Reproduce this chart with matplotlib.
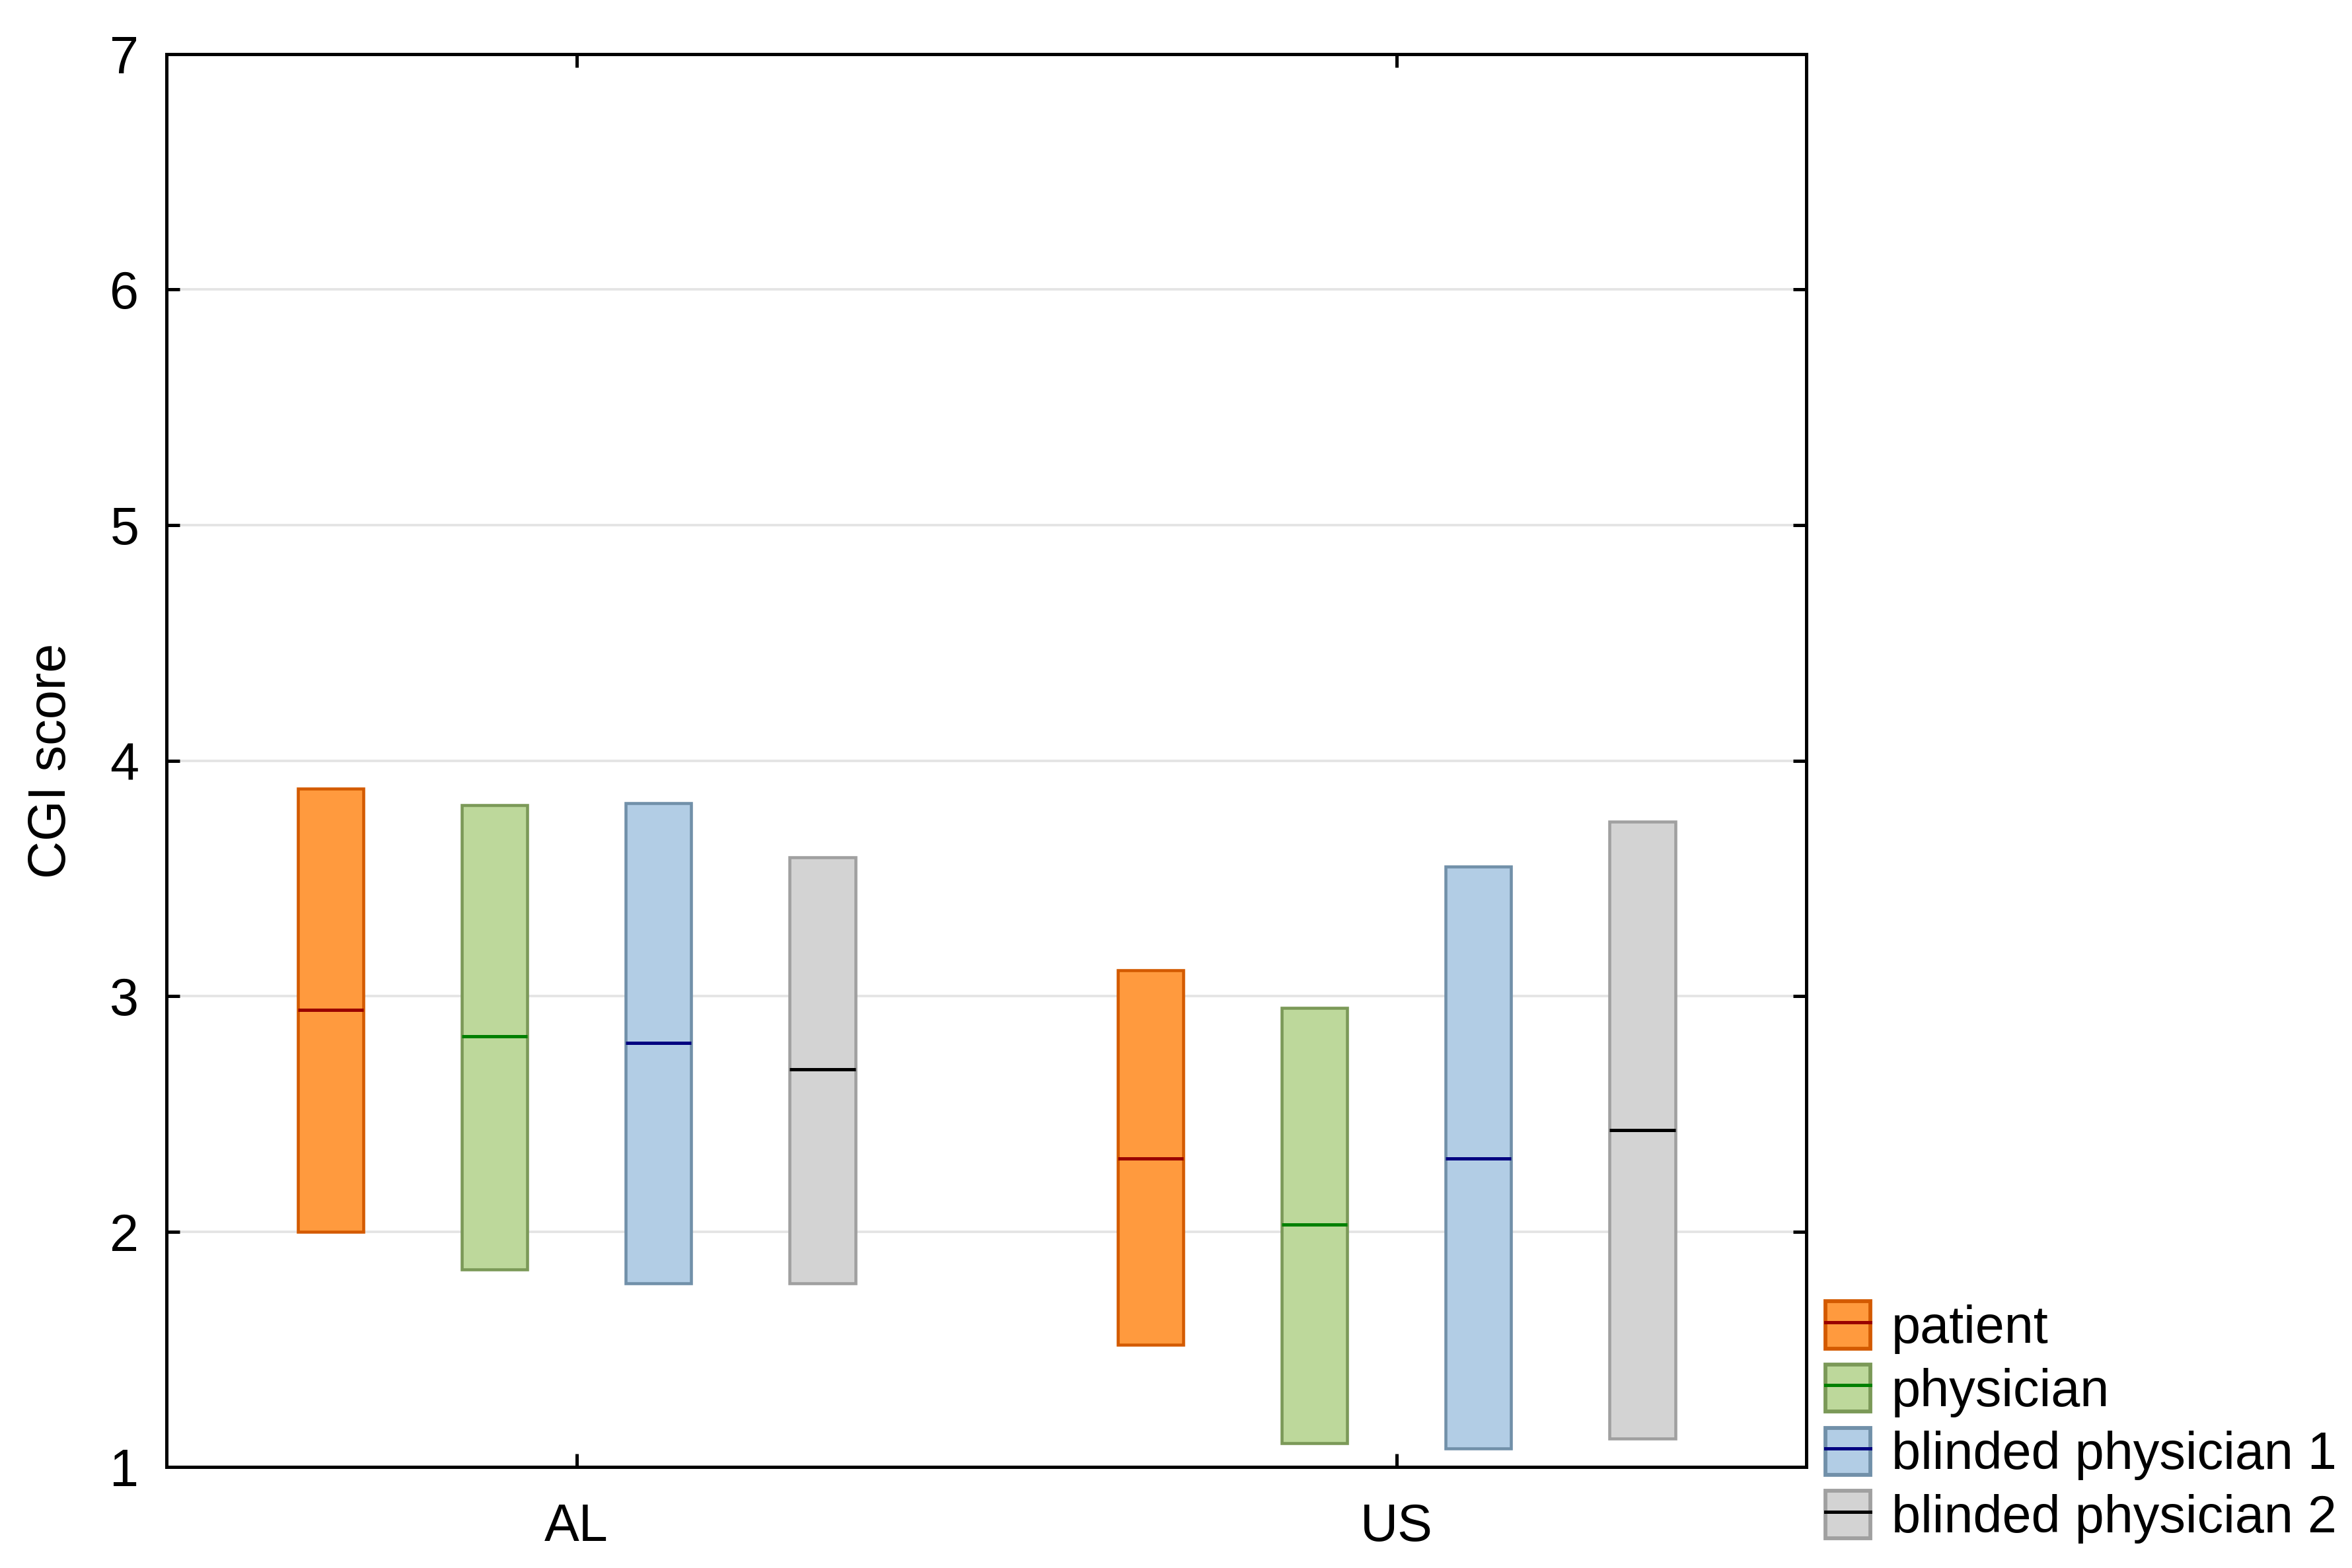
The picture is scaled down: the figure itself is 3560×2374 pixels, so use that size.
import numpy as np
import matplotlib
matplotlib.use('Agg')
import matplotlib.pyplot as plt
from matplotlib.patches import Patch
from matplotlib.lines import Line2D

plt.rcParams['font.family'] = ['Liberation Sans', 'DejaVu Sans']

# data
groups = ['AL', 'US']
raters = ['patient', 'physician', 'blinded physician 1', 'blinded physician 2']
box_low = {
    'patient': [2.00, 1.52],
    'physician': [1.84, 1.10],
    'blinded physician 1': [1.78, 1.08],
    'blinded physician 2': [1.78, 1.12],
}
box_mid = {
    'patient': [2.94, 2.31],
    'physician': [2.83, 2.03],
    'blinded physician 1': [2.80, 2.31],
    'blinded physician 2': [2.69, 2.43],
}
box_high = {
    'patient': [3.88, 3.11],
    'physician': [3.81, 2.95],
    'blinded physician 1': [3.82, 3.55],
    'blinded physician 2': [3.59, 3.74],
}
y_ticks = [1, 2, 3, 4, 5, 6, 7]

fills = ['#ff9a3e', '#bdd89b', '#b2cde5', '#d3d3d3']
edges = ['#d35a00', '#7b9958', '#7190a9', '#a0a0a0']
medians = ['#990000', '#008000', '#000080', '#000000']
offsets = [-0.3, -0.1, 0.1, 0.3]
width = 0.08

fig = plt.figure(figsize=(3561 / 300, 2374 / 300), dpi=300)
ax = fig.add_axes([0.0708, 0.0644, 0.697, 0.9011])

x = np.arange(len(groups))
for i, r in enumerate(raters):
    lo = np.array(box_low[r])
    hi = np.array(box_high[r])
    ax.bar(x + offsets[i], hi - lo, width=width, bottom=lo, color=fills[i],
           edgecolor=edges[i], linewidth=1.1, zorder=3)
    ax.hlines(box_mid[r], x + offsets[i] - width / 2, x + offsets[i] + width / 2,
              colors=medians[i], linewidth=1.2, zorder=4)

ax.set_xlim(-0.5, 1.5)
ax.set_ylim(1, 7)
ax.set_xticks(x)
ax.set_xticklabels(groups)
ax.set_yticks(y_ticks)
ax.tick_params(direction='in', length=4.8, width=1.2, labelsize=19,
               top=True, right=True)
ax.tick_params(axis='x', pad=13)
ax.tick_params(axis='y', pad=10)
for yv in y_ticks[1:-1]:
    ax.axhline(yv, color='#e4e4e4', linewidth=0.9, zorder=1)
for s in ax.spines.values():
    s.set_linewidth(1.2)

ax.set_ylabel('CGI score', fontsize=19)
ax.yaxis.set_label_coords(-0.055, 0.5)

handles = [(Patch(facecolor=fills[i], edgecolor=edges[i], linewidth=1.4),
            Line2D([], [], color=medians[i], linewidth=1.2)) for i in range(4)]
fig.legend(handles, raters, loc='lower left', bbox_to_anchor=(0.776, 0.0156),
           frameon=False, fontsize=19, handlelength=0.86, handleheight=1.01,
           labelspacing=0.2, handletextpad=0.4, borderpad=0, borderaxespad=0)

fig.savefig('out.png', dpi=300)
